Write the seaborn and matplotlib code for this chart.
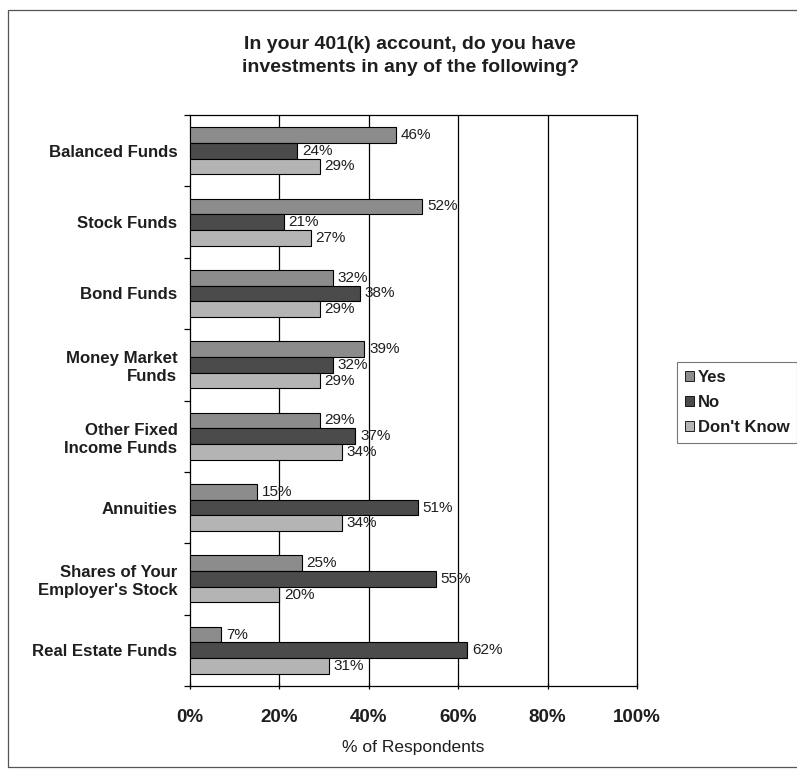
import matplotlib
matplotlib.use("Agg")
import matplotlib.pyplot as plt
import matplotlib.patches as mpatches
import seaborn as sns
import pandas as pd
import numpy as np

categories = [
    "Balanced Funds",
    "Stock Funds",
    "Bond Funds",
    "Money Market\nFunds",
    "Other Fixed\nIncome Funds",
    "Annuities",
    "Shares of Your\nEmployer's Stock",
    "Real Estate Funds",
]
responses = ["Yes", "No", "Don't Know"]
yes_pct = [46, 52, 32, 39, 29, 15, 25, 7]
no_pct = [24, 21, 38, 32, 37, 51, 55, 62]
dont_know_pct = [29, 27, 29, 29, 34, 34, 20, 31]
x_ticks = [0, 20, 40, 60, 80, 100]

df = pd.DataFrame({
    "Category": categories * 3,
    "Response": sum([[r] * len(categories) for r in responses], []),
    "Percent": yes_pct + no_pct + dont_know_pct,
})

sns.set_theme(style="white")
plt.rcParams["font.family"] = ["Liberation Sans", "DejaVu Sans"]

palette = {"Yes": "#8c8c8c", "No": "#4b4b4b", "Don't Know": "#b4b4b4"}
ink = "#1e1e1e"

fig = plt.figure(figsize=(7.97, 7.77), dpi=100)
ax = fig.add_axes([190 / 797, 91 / 777, 447 / 797, 571 / 777])

sns.barplot(
    data=df, y="Category", x="Percent", hue="Response",
    order=categories, hue_order=responses, palette=palette,
    orient="h", width=0.66, edgecolor="black", linewidth=0.8,
    saturation=1, ax=ax, legend=False, zorder=3,
)

for cont in ax.containers:
    ax.bar_label(cont, fmt="%d%%", padding=3.5, fontsize=11, color=ink, zorder=4)

ax.set_xlim(0, 100)
ax.set_xticks(x_ticks)
ax.set_xticklabels([f"{t}%" for t in x_ticks], fontsize=13.5, fontweight="bold", color=ink)
for t in x_ticks[1:-1]:
    ax.axvline(t, color="black", linewidth=0.9, zorder=1)

ax.set_ylim(len(categories) - 0.5, -0.5)
ax.set_yticks(range(len(categories)))
ax.set_yticklabels(categories, fontsize=12.1, fontweight="bold", color=ink, linespacing=1.25)
ax.set_yticks(np.arange(-0.5, len(categories)), minor=True)
ax.tick_params(axis="y", which="major", length=0, pad=9)
ax.tick_params(axis="y", which="minor", length=4, width=0.9, color="black", direction="out", left=True)
ax.tick_params(axis="x", which="major", length=5, width=0.9, color="black", direction="inout", bottom=True, pad=14)

ax.set_xlabel("% of Respondents", fontsize=12.5, color=ink, labelpad=10)
ax.set_ylabel("")

for s in ax.spines.values():
    s.set_visible(True)
    s.set_color("black")
    s.set_linewidth(0.9)

fig.text(410 / 797, 1 - 56 / 777,
         "In your 401(k) account, do you have\ninvestments in any of the following?",
         ha="center", va="center", fontsize=14, fontweight="bold",
         color=ink, linespacing=1.45)

handles = [mpatches.Patch(facecolor=palette[r], edgecolor="black", linewidth=0.6, label=r)
           for r in responses]
leg = fig.legend(handles=handles, loc="upper left", bbox_to_anchor=(677 / 797, 1 - 362 / 777),
                 frameon=True, prop={"size": 12, "weight": "bold"},
                 handlelength=0.55, handleheight=0.55,
                 handletextpad=0.25, labelspacing=0.62, borderpad=0.45,
                 borderaxespad=0, fancybox=False)
leg.get_frame().set_edgecolor("#555555")
leg.get_frame().set_linewidth(0.8)
for t in leg.get_texts():
    t.set_color(ink)

border = mpatches.Rectangle((8 / 797, 10 / 777), 1.0, 1 - 20 / 777,
                            transform=fig.transFigure, fill=False,
                            edgecolor="#555555", linewidth=0.9)
fig.patches.append(border)

fig.savefig("out.png", dpi=100)
